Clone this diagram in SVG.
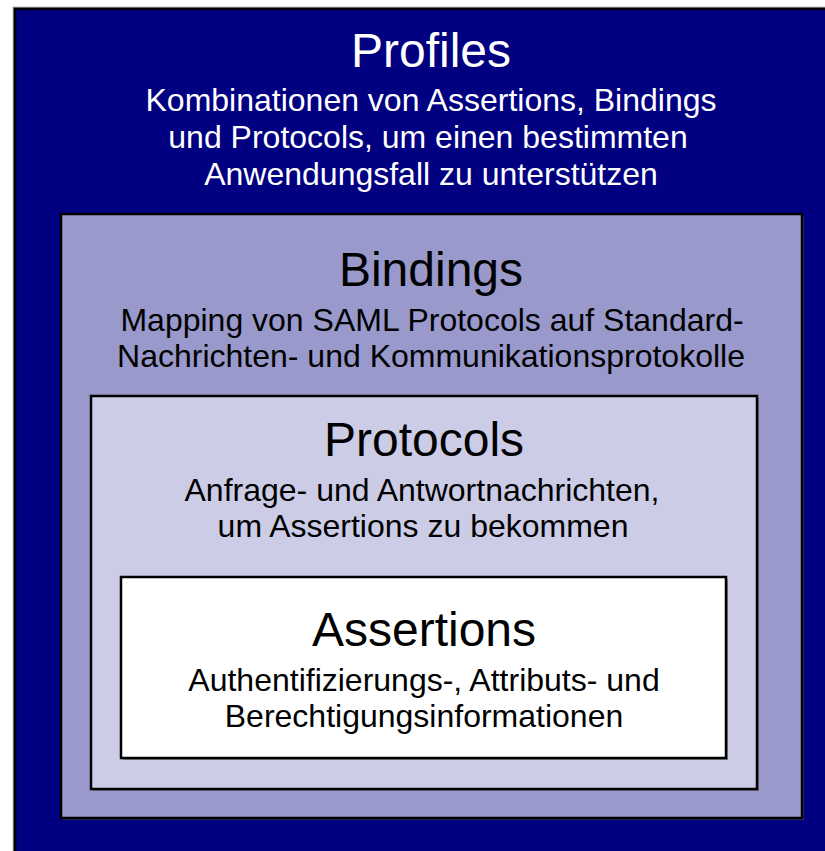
<svg xmlns="http://www.w3.org/2000/svg" width="825" height="851" viewBox="0 0 825 851">
<style>
.box{stroke:#000;stroke-width:2.5}
.sh{fill:#555;opacity:0.6}
text{font-family:"Liberation Sans",Arial,sans-serif;text-anchor:middle}
.t{font-size:48px}
.s{font-size:32px}
.w{fill:#fff}
.k{fill:#000}
</style>
<rect width="825" height="851" fill="#fff"/>
<g id="profiles">
<rect x="13.5" y="7.5" width="820" height="850" fill="none" stroke="#888" stroke-width="1.5"/>
<rect class="box" x="15" y="9" width="820" height="850" fill="#000080"/>
<text class="t w" x="431" y="67">Profiles</text>
<text class="s w" x="431" y="111">Kombinationen von Assertions, Bindings</text>
<text class="s w" x="428" y="148">und Protocols, um einen bestimmten</text>
<text class="s w" x="431" y="185">Anwendungsfall zu unterstützen</text>
</g>
<g id="bindings">
<rect class="sh" x="63" y="216" width="741" height="604"/>
<rect class="box" x="61" y="214" width="741" height="604" fill="#9999CC"/>
<text class="t k" x="431" y="286">Bindings</text>
<text class="s k" x="432" y="331">Mapping von SAML Protocols auf Standard-</text>
<text class="s k" x="431" y="367">Nachrichten- und Kommunikationsprotokolle</text>
</g>
<g id="protocols">
<rect class="sh" x="93" y="398" width="666" height="393"/>
<rect class="box" x="91" y="396" width="666" height="393" fill="#CCCCE6"/>
<text class="t k" x="424" y="456">Protocols</text>
<text class="s k" x="422" y="501">Anfrage- und Antwortnachrichten,</text>
<text class="s k" x="423" y="537">um Assertions zu bekommen</text>
</g>
<g id="assertions">
<rect class="sh" x="123" y="579" width="605" height="181"/>
<rect class="box" x="121" y="577" width="605" height="181" fill="#fff"/>
<text class="t k" x="424" y="646">Assertions</text>
<text class="s k" x="424" y="691">Authentifizierungs-, Attributs- und</text>
<text class="s k" x="424" y="727">Berechtigungsinformationen</text>
</g>
<g id="connectors"/>
</svg>
